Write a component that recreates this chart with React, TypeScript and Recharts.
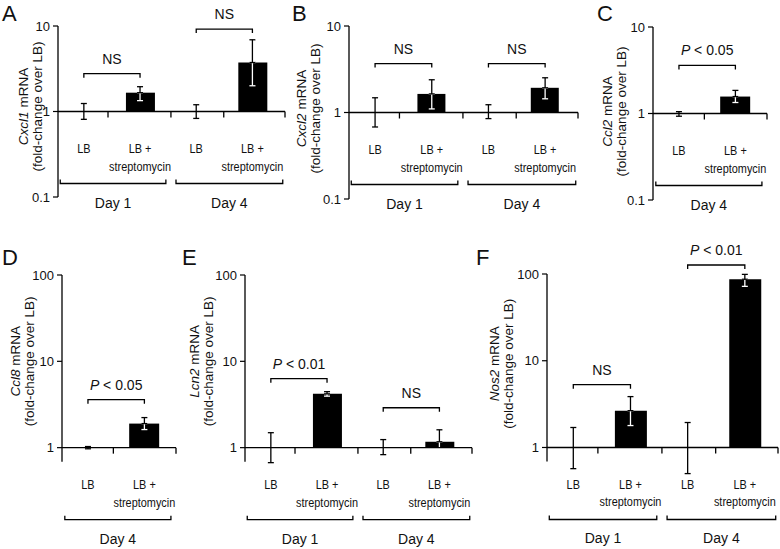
import React from 'react';
import { ComposedChart, Bar, Scatter, ErrorBar, XAxis, YAxis, ReferenceLine } from 'recharts';

const SANS = '"Liberation Sans", Arial, Helvetica, sans-serif';
const INK = '#111';

// categories
const groups4 = ['LB', 'LB + streptomycin', 'LB', 'LB + streptomycin'];
const groups2 = ['LB', 'LB + streptomycin'];
const days4 = ['Day 1', 'Day 4'];
const days2 = ['Day 4'];

const ticksLow = [0.1, 1, 10];
const ticksHigh = [1, 10, 100];

// A - Cxcl1 (mean, lower / upper end of error bar)
const cxcl1Mean = [1, 1.66, 1, 3.74];
const cxcl1Lo = [0.81, 1.34, 0.83, 2.0];
const cxcl1Hi = [1.24, 1.95, 1.2, 6.9];
const cxcl1Sig = ['NS', 'NS'];
const cxcl1SigAt = [2.77, 9.2];

// B - Cxcl2
const cxcl2Mean = [1, 1.64, 1, 1.93];
const cxcl2Lo = [0.68, 1.1, 0.85, 1.44];
const cxcl2Hi = [1.48, 2.39, 1.23, 2.52];
const cxcl2Sig = ['NS', 'NS'];
const cxcl2SigAt = [3.68, 3.68];

// C - Ccl2
const ccl2Mean = [1, 1.57];
const ccl2Lo = [0.93, 1.34];
const ccl2Hi = [1.05, 1.85];
const ccl2Sig = ['P < 0.05'];
const ccl2SigAt = [3.6];

// D - Ccl8
const ccl8Mean = [1, 1.9];
const ccl8Lo = [0.97, 1.62];
const ccl8Hi = [1.03, 2.23];
const ccl8Sig = ['P < 0.05'];
const ccl8SigAt = [3.6];

// E - Lcn2
const lcn2Mean = [1, 4.2, 1, 1.17];
const lcn2Lo = [0.67, 3.95, 0.83, 0.85];
const lcn2Hi = [1.49, 4.45, 1.24, 1.61];
const lcn2Sig = ['P < 0.01', 'NS'];
const lcn2SigAt = [6.3, 2.9];

// F - Nos2
const nos2Mean = [1, 2.66, 1, 87];
const nos2Lo = [0.57, 1.79, 0.5, 72];
const nos2Hi = [1.7, 3.86, 1.94, 99];
const nos2Sig = ['NS', 'P < 0.01'];
const nos2SigAt = [5.3, 127];

// x layouts (category index units)
const wide = {
  domain: [-0.46, 3.58],
  sep: [0.43, 1.55, 2.49, 3.58],
  dayRanges: [[-0.42, 1.46], [1.64, 3.54]],
  pairs: [[0, 1], [2, 3]],
};
const narrow = {
  domain: [-0.46, 1.56],
  sep: [0.45, 1.56],
  dayRanges: [[-0.41, 1.47]],
  pairs: [[0, 1]],
};

// page boxes: top row 0..232, bottom row 232..549
const panels = [
  { letter: 'A', gene: 'Cxcl1', groups: groups4, days: days4, mean: cxcl1Mean, lo: cxcl1Lo, hi: cxcl1Hi, sig: cxcl1Sig, sigAt: cxcl1SigAt, ticks: ticksLow, domain: [0.1, 10], x: wide,
    box: { left: 0, top: 0, width: 290, height: 232, axisX: 58, endX: 285, yTop: 26, yBot: 197, barSize: 29, labelDx: [-35, -21], labelDy: -5, stub: 0, lx: 2, ly: 21 } },
  { letter: 'B', gene: 'Cxcl2', groups: groups4, days: days4, mean: cxcl2Mean, lo: cxcl2Lo, hi: cxcl2Hi, sig: cxcl2Sig, sigAt: cxcl2SigAt, ticks: ticksLow, domain: [0.1, 10], x: wide,
    box: { left: 290, top: 0, width: 290, height: 232, axisX: 349, endX: 578, yTop: 26, yBot: 199, barSize: 28, labelDx: [-48, -34], labelDy: -4, stub: 0, lx: 292, ly: 21 } },
  { letter: 'C', gene: 'Ccl2', groups: groups2, days: days2, mean: ccl2Mean, lo: ccl2Lo, hi: ccl2Hi, sig: ccl2Sig, sigAt: ccl2SigAt, ticks: ticksLow, domain: [0.1, 10], x: narrow,
    box: { left: 580, top: 0, width: 200, height: 232, axisX: 653, endX: 767, yTop: 27, yBot: 200, barSize: 30, labelDx: [-46, -32], labelDy: -2, stub: 0, lx: 597, ly: 21 } },
  { letter: 'D', gene: 'Ccl8', groups: groups2, days: days2, mean: ccl8Mean, lo: ccl8Lo, hi: ccl8Hi, sig: ccl8Sig, sigAt: ccl8SigAt, ticks: ticksHigh, domain: [0.4, 100], x: narrow,
    box: { left: 0, top: 232, width: 185, height: 317, axisX: 62, endX: 176, yTop: 275, yBot: 482, barSize: 30, labelDx: [-47, -33], labelDy: 0, stub: 14, lx: 2, ly: 265 } },
  { letter: 'E', gene: 'Lcn2', groups: groups4, days: days4, mean: lcn2Mean, lo: lcn2Lo, hi: lcn2Hi, sig: lcn2Sig, sigAt: lcn2SigAt, ticks: ticksHigh, domain: [0.4, 100], x: wide,
    box: { left: 185, top: 232, width: 290, height: 317, axisX: 245, endX: 472, yTop: 275, yBot: 482, barSize: 29, labelDx: [-51, -37], labelDy: 0, stub: 14, lx: 182, ly: 265 } },
  { letter: 'F', gene: 'Nos2', groups: groups4, days: days4, mean: nos2Mean, lo: nos2Lo, hi: nos2Hi, sig: nos2Sig, sigAt: nos2SigAt, ticks: ticksHigh, domain: [0.4, 100], x: wide,
    box: { left: 475, top: 232, width: 305, height: 317, axisX: 547, endX: 778, yTop: 274, yBot: 482, barSize: 32, labelDx: [-53, -39], labelDy: 3, stub: 14, lx: 476, ly: 265 } },
];

function sigLabel(text: string) {
  if (text.startsWith('P ')) {
    return (
      <>
        <tspan fontStyle="italic">P</tspan>
        {text.slice(1)}
      </>
    );
  }
  return text;
}

// condensed look of the category labels (no narrow font installed)
function NarrowText({ x, y, children }: { x: number; y: number; children: React.ReactNode }) {
  return (
    <text
      transform={`translate(${x},${y}) scale(0.84,1)`}
      textAnchor="middle"
      fontFamily={SANS}
      fontSize={13}
      fill={INK}
    >
      {children}
    </text>
  );
}

function YTick(props: any) {
  const { x, y, payload } = props;
  return (
    <text x={x} y={y} dy="0.36em" textAnchor="end" fontFamily={SANS} fontSize={13} fill={INK}>
      {String(payload.value)}
    </text>
  );
}

function Panel({ p }: { p: any }) {
  const b = p.box;
  const rows = p.groups.map((g: string, i: number) => {
    const treated = i % 2 === 1;
    const m = p.mean[i];
    return {
      pos: i,
      name: g,
      value: m,
      bar: [1, treated ? m : 1],
      errOut: treated ? [0, p.hi[i] - m] : [m - p.lo[i], p.hi[i] - m],
      errIn: treated ? [m - p.lo[i], 0] : null,
    };
  });
  const [xs, xe] = p.x.domain;
  const axisLo = p.ticks[0];
  const axisHi = p.ticks[p.ticks.length - 1];
  const pick = (key: string) => (d: any) => (d && d.payload ? d.payload : d)[key];

  return (
    <ComposedChart
      width={b.width}
      height={b.height}
      data={rows}
      margin={{ top: b.yTop - b.top, bottom: b.top + b.height - b.yBot, left: 0, right: b.left + b.width - b.endX }}
    >
      <XAxis type="number" dataKey="pos" domain={p.x.domain} hide />
      <YAxis
        type="number"
        scale="log"
        domain={p.domain}
        ticks={p.ticks}
        interval={0}
        width={b.axisX - b.left}
        axisLine={false}
        tickLine={{ stroke: '#000', strokeWidth: 1.2 }}
        tickSize={5}
        tickMargin={3}
        tick={<YTick />}
      />
      <Bar dataKey="bar" fill="#000" barSize={b.barSize} isAnimationActive={false} />
      <Scatter dataKey="value" shape={() => <g />} isAnimationActive={false}>
        <ErrorBar dataKey={pick('errIn')} direction="y" stroke="#fff" strokeWidth={1.3} width={3} />
        <ErrorBar dataKey={pick('errOut')} direction="y" stroke="#000" strokeWidth={1.3} width={3} />
      </Scatter>

      {/* y axis line, rotated title and panel letter */}
      <ReferenceLine
        segment={[{ x: xs, y: axisLo }, { x: xs, y: axisHi }]}
        ifOverflow="visible"
        shape={(s: any) => {
          const cy = (s.y1 + s.y2) / 2 + b.labelDy;
          return (
            <g>
              <line x1={s.x1} y1={s.y1 + b.stub} x2={s.x2} y2={s.y2} stroke="#000" strokeWidth={1.3} />
              <text
                transform={`translate(${s.x1 + b.labelDx[0]},${cy}) rotate(-90)`}
                textAnchor="middle"
                dy="0.35em"
                fontFamily={SANS}
                fontSize={13.5}
                fill={INK}
              >
                <tspan fontStyle="italic">{p.gene}</tspan> mRNA
              </text>
              <text
                transform={`translate(${s.x1 + b.labelDx[1]},${cy}) rotate(-90)`}
                textAnchor="middle"
                dy="0.35em"
                fontFamily={SANS}
                fontSize={13.5}
                fill={INK}
              >
                (fold-change over LB)
              </text>
              <text x={b.lx - b.left} y={b.ly - b.top} fontFamily={SANS} fontSize={22} fill={INK}>
                {p.letter}
              </text>
            </g>
          );
        }}
      />
      {/* baseline at fold-change 1 */}
      <ReferenceLine
        segment={[{ x: xs, y: 1 }, { x: xe, y: 1 }]}
        ifOverflow="visible"
        stroke="#000"
        strokeWidth={1.3}
      />
      {p.x.sep.map((t: number, k: number) => (
        <ReferenceLine
          key={`sep${k}`}
          segment={[{ x: t, y: 1 }, { x: t, y: 1 }]}
          ifOverflow="visible"
          shape={(s: any) => <line x1={s.x1} y1={s.y1} x2={s.x1} y2={s.y1 + 6} stroke="#000" strokeWidth={1.3} />}
        />
      ))}
      {p.groups.map((g: string, i: number) => (
        <ReferenceLine
          key={`cat${i}`}
          segment={[{ x: i, y: 1 }, { x: i, y: 1 }]}
          ifOverflow="visible"
          shape={(s: any) => {
            const parts = g === 'LB' ? ['LB'] : ['LB +', 'streptomycin'];
            return (
              <g>
                {parts.map((t, j) => (
                  <NarrowText key={j} x={s.x1} y={s.y1 + 41.5 + j * 17.5}>
                    {t}
                  </NarrowText>
                ))}
              </g>
            );
          }}
        />
      ))}
      {p.x.dayRanges.map((r: number[], k: number) => (
        <ReferenceLine
          key={`day${k}`}
          segment={[{ x: r[0], y: 1 }, { x: r[1], y: 1 }]}
          ifOverflow="visible"
          shape={(s: any) => {
            const y = s.y1 + 72;
            return (
              <g>
                <path d={`M${s.x1},${y - 4}V${y}H${s.x2}V${y - 4}`} fill="none" stroke="#000" strokeWidth={1.3} />
                <text x={(s.x1 + s.x2) / 2} y={y + 24} textAnchor="middle" fontFamily={SANS} fontSize={14} fill={INK}>
                  {p.days[k]}
                </text>
              </g>
            );
          }}
        />
      ))}
      {p.x.pairs.map((pr: number[], k: number) => (
        <ReferenceLine
          key={`sig${k}`}
          segment={[{ x: pr[0], y: p.sigAt[k] }, { x: pr[1], y: p.sigAt[k] }]}
          ifOverflow="visible"
          shape={(s: any) => (
            <g>
              <path d={`M${s.x1},${s.y1 + 4}V${s.y1}H${s.x2}V${s.y1 + 4}`} fill="none" stroke="#000" strokeWidth={1.3} />
              <text x={(s.x1 + s.x2) / 2} y={s.y1 - 10} textAnchor="middle" fontFamily={SANS} fontSize={14} fill={INK}>
                {sigLabel(p.sig[k])}
              </text>
            </g>
          )}
        />
      ))}
    </ComposedChart>
  );
}

export default function App() {
  return (
    <div style={{ position: 'fixed', left: 0, top: 0, width: 780, height: 549, background: '#fff', overflow: 'hidden' }}>
      <style>{'.recharts-surface { overflow: visible; }'}</style>
      {panels.map((p) => (
        <div key={p.letter} style={{ position: 'absolute', left: p.box.left, top: p.box.top }}>
          <Panel p={p} />
        </div>
      ))}
    </div>
  );
}
